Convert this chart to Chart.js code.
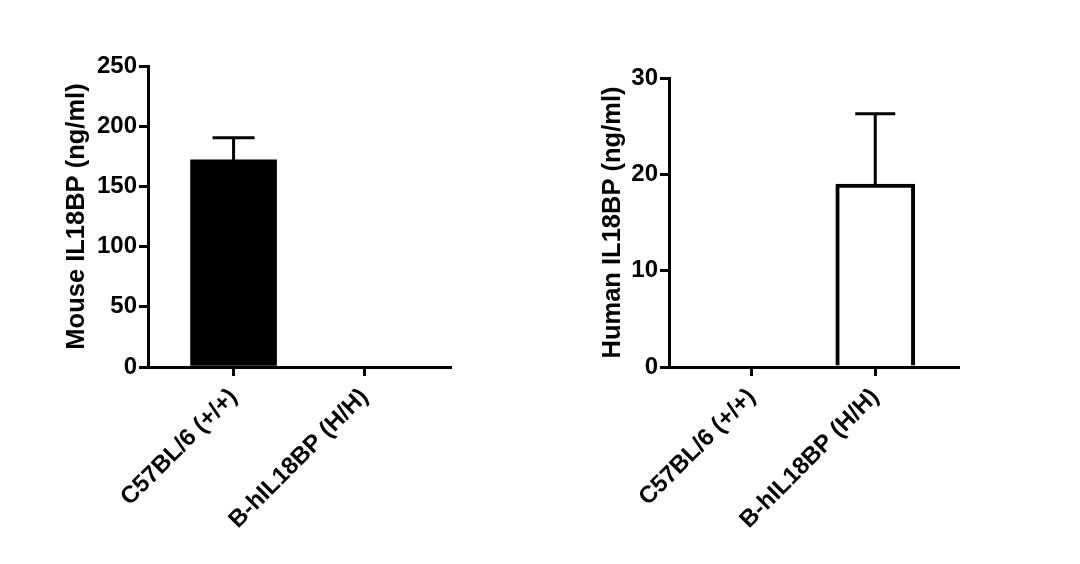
<!DOCTYPE html>
<html lang="en">
<head>
  <meta charset="UTF-8" />
  <title>IL18BP serum levels</title>
  <script src="https://cdn.jsdelivr.net/npm/chart.js"></script>
  <style>
    body { margin: 0; background: #fff; }
    #wrap { position: relative; width: 1080px; height: 564px; }
    .panel { position: absolute; top: 0; width: 540px; height: 564px; }
  </style>
</head>
<body>
  <div id="wrap">
    <div class="panel" style="left:0"><canvas id="mouseChart"></canvas></div>
    <div class="panel" style="left:540px"><canvas id="humanChart"></canvas></div>
  </div>

  <script>
    const groups = ['C57BL/6 (+/+)', 'B-hIL18BP (H/H)'];
    const mouseMean = [172, 0];
    const mouseSem = [18.5, 0];
    const humanMean = [0, 19];
    const humanSem = [0, 7.3];
    const mouseTicks = [0, 50, 100, 150, 200, 250];
    const humanTicks = [0, 10, 20, 30];

    Chart.defaults.font.family = "'Liberation Sans', Arial, sans-serif";
    Chart.defaults.font.weight = 'bold';
    Chart.defaults.font.size = 24;
    Chart.defaults.color = '#000';

    // mean + SEM whiskers, drawn on top of the bars
    const errorBars = {
      id: 'errorBars',
      afterDatasetsDraw(chart, args, opts) {
        const { ctx, scales: { x, y } } = chart;
        const pts = chart.data.datasets[0].data;
        ctx.save();
        ctx.strokeStyle = '#000';
        ctx.lineWidth = 3;
        pts.forEach((p, i) => {
          const err = opts.errors[i];
          if (!err) return;
          const px = x.getPixelForValue(p.x);
          const y0 = y.getPixelForValue(p.y);
          const y1 = y.getPixelForValue(p.y + err);
          ctx.beginPath();
          ctx.moveTo(px, y0);
          ctx.lineTo(px, y1);
          ctx.moveTo(px - opts.cap, y1);
          ctx.lineTo(px + opts.cap, y1);
          ctx.stroke();
        });
        ctx.restore();
      }
    };

    function makeChart(id, means, sems, ticks, title, cfg) {
      const ctx = document.getElementById(id).getContext('2d');
      return new Chart(ctx, {
        type: 'bar',
        data: {
          datasets: [{
            data: means.map((v, i) => ({ x: i, y: v })),
            backgroundColor: cfg.fill,
            borderColor: '#000',
            borderWidth: cfg.border,
            barThickness: cfg.barWidth
          }]
        },
        options: {
          responsive: true,
          maintainAspectRatio: false,
          animation: false,
          layout: { padding: cfg.padding },
          plugins: {
            legend: { display: false },
            tooltip: { enabled: false },
            errorBars: { errors: sems, cap: cfg.cap }
          },
          scales: {
            x: {
              type: 'linear',
              offset: false,
              min: -cfg.xPad,
              max: groups.length - 1 + cfg.xPad,
              z: 1,
              afterBuildTicks: s => { s.ticks = groups.map((_, i) => ({ value: i })); },
              afterFit: s => { s.height = 197; },
              border: { color: '#000', width: 3 },
              grid: { offset: false, drawOnChartArea: false, color: '#000', lineWidth: 3, tickLength: 9 },
              ticks: {
                autoSkip: false,
                minRotation: 45,
                maxRotation: 45,
                padding: 7,
                callback: v => groups[v]
              }
            },
            y: {
              min: ticks[0],
              max: ticks[ticks.length - 1],
              z: 1,
              afterFit: s => { s.width = cfg.yWidth; },
              border: { color: '#000', width: 3 },
              grid: { drawOnChartArea: false, color: '#000', lineWidth: 3, tickLength: 9 },
              ticks: { stepSize: ticks[1] - ticks[0], padding: 2 },
              title: { display: true, text: title, font: { size: 25.5 }, padding: { top: 3, bottom: 0 } }
            }
          }
        },
        plugins: [errorBars]
      });
    }

    makeChart('mouseChart', mouseMean, mouseSem, mouseTicks, 'Mouse IL18BP (ng/ml)', {
      fill: '#000', border: 0, barWidth: 86, cap: 21, xPad: 0.654, yWidth: 89,
      padding: { left: 59, right: 90, top: 66, bottom: 0 }
    });
    makeChart('humanChart', humanMean, humanSem, humanTicks, 'Human IL18BP (ng/ml)', {
      fill: '#fff', border: 4, barWidth: 79, cap: 20, xPad: 0.67, yWidth: 74,
      padding: { left: 55, right: 122, top: 78, bottom: 0 }
    });
  </script>
</body>
</html>
